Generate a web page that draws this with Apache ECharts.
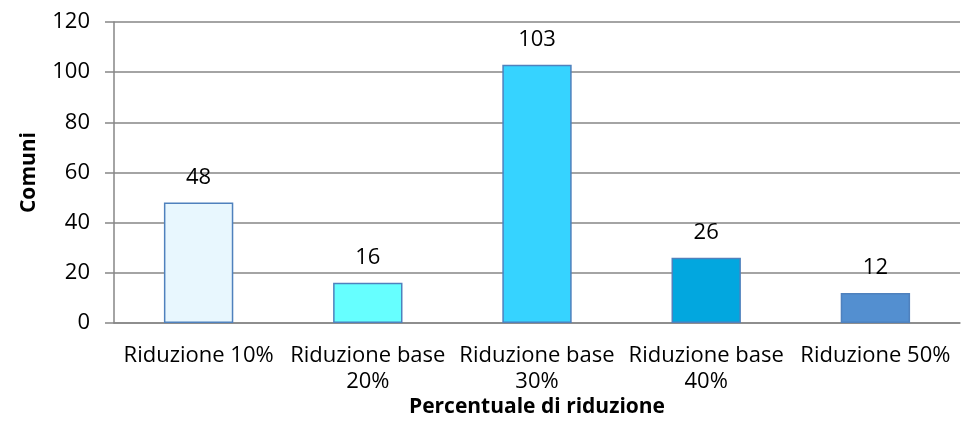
<!DOCTYPE html>
<html><head><meta charset="utf-8">
<script src="https://cdn.jsdelivr.net/npm/echarts@6/dist/echarts.min.js"></script>
<style>html,body{margin:0;padding:0;background:#fff}#c{width:963px;height:436px}</style>
</head><body><div id="c"></div>
<script>
const categories = ["Riduzione 10%", "Riduzione base\n20%", "Riduzione base\n30%", "Riduzione base\n40%", "Riduzione 50%"];
const values = [48, 16, 103, 26, 12];
const barColors = ["#e8f7fe", "#66ffff", "#36d3ff", "#02a7df", "#538fd0"];
const yTicks = [0, 20, 40, 60, 80, 100, 120];

const FONT = "'Open Sans', sans-serif";
const chart = echarts.init(document.getElementById('c'));
chart.setOption({
  animation: false,
  grid: { left: 114, right: 3, top: 22, bottom: 113, containLabel: false },
  xAxis: {
    type: 'category', data: categories,
    name: 'Percentuale di riduzione', nameLocation: 'middle', nameGap: 74, nameMoveOverlap: false,
    nameTextStyle: { fontFamily: FONT, fontSize: 21, fontWeight: 'bold', color: '#000' },
    axisLine: { lineStyle: { color: '#868686', width: 1.5 } },
    axisTick: { show: false },
    axisLabel: { fontFamily: FONT, fontSize: 22, color: '#000', margin: 20, lineHeight: 26, interval: 0 }
  },
  yAxis: {
    type: 'value', min: yTicks[0], max: yTicks[yTicks.length - 1], interval: 20,
    name: 'Comuni', nameLocation: 'middle', nameGap: 74, nameRotate: 90, nameMoveOverlap: false,
    nameTextStyle: { fontFamily: FONT, fontSize: 21, fontWeight: 'bold', color: '#000' },
    axisLine: { show: true, lineStyle: { color: '#868686', width: 1.5 } },
    axisTick: { show: true, inside: false, length: 9, lineStyle: { color: '#868686', width: 1.5 } },
    splitLine: { lineStyle: { color: '#868686', width: 1.5 } },
    axisLabel: { fontFamily: FONT, fontSize: 22, color: '#000', margin: 24 }
  },
  series: [{
    type: 'bar', barWidth: '41%',
    data: values.map((v, i) => ({ value: v, itemStyle: { color: barColors[i] } })),
    itemStyle: { borderColor: '#4f81bd', borderWidth: 1.5 },
    label: { show: true, position: 'top', distance: 14, fontFamily: FONT, fontSize: 22, color: '#000' }
  }]
});
</script></body></html>
